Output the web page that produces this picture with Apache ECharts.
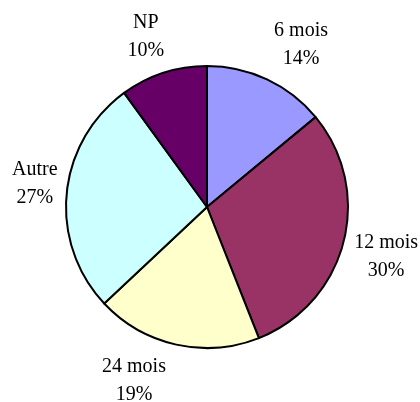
<!DOCTYPE html>
<html><head><meta charset="utf-8">
<script src="https://cdn.jsdelivr.net/npm/echarts@6/dist/echarts.min.js"></script>
<style>html,body{margin:0;padding:0;background:#fff}#c{width:420px;height:402px}</style>
</head><body><div id="c"></div>
<script>
const categories = ['6 mois', '12 mois', '24 mois', 'Autre', 'NP'];
const values = [14, 30, 19, 27, 10];
const colors = ['#9999FF', '#993366', '#FFFFCC', '#CCFFFF', '#660066'];
const labelOffsets = [[14, 8], [-3, 3], [-32, -10], [15, -6], [-3, 9]];

const chart = echarts.init(document.getElementById('c'));
const mainData = categories.map((n, i) => ({ name: n, value: values[i], itemStyle: { color: colors[i] } }));
const labelData = categories.map((n, i) => ({ name: n, value: values[i], label: { offset: labelOffsets[i] } }));
chart.setOption({
  animation: false,
  series: [
    {
      type: 'pie', center: [207, 207], radius: 141, startAngle: 90, clockwise: true,
      label: { show: false }, labelLine: { show: false }, silent: true,
      itemStyle: { borderColor: '#000', borderWidth: 2 },
      data: mainData
    },
    {
      type: 'pie', center: [207, 207], radius: [175, 195], startAngle: 90, clockwise: true,
      silent: true,
      itemStyle: { color: 'rgba(0,0,0,0)', borderWidth: 0 },
      labelLine: { show: false },
      label: {
        show: true, position: 'inside', formatter: '{b}\n{c}%',
        fontFamily: 'Liberation Serif', fontSize: 20, lineHeight: 28, color: '#000', align: 'center'
      },
      data: labelData
    }
  ]
});
</script></body></html>
